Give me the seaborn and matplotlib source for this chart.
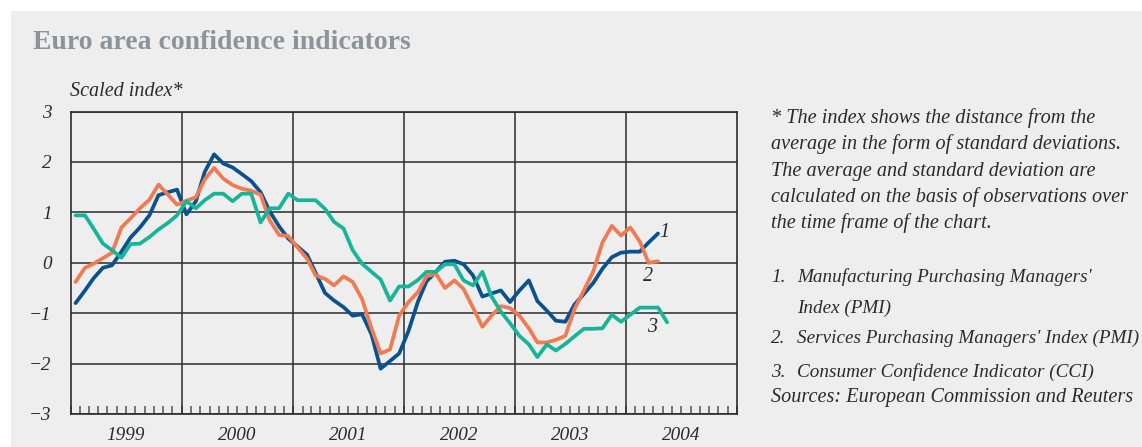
import pandas as pd
import matplotlib
matplotlib.use("Agg")
import matplotlib.pyplot as plt
import matplotlib.dates as mdates
from matplotlib.patches import Rectangle
import seaborn as sns

# Monthly values, Jan 1999 onwards (scaled index, standard deviations)
pmi_manufacturing = [
    -0.80, -0.55, -0.31, -0.10, -0.05, 0.22, 0.50, 0.70, 0.94, 1.34, 1.40, 1.45,
    0.96, 1.22, 1.80, 2.15, 1.97, 1.89, 1.76, 1.62, 1.40, 1.02, 0.72, 0.48,
    0.32, 0.16, -0.20, -0.60, -0.75, -0.88, -1.05, -1.02, -1.42, -2.10, -1.95, -1.80,
    -1.35, -0.77, -0.37, -0.18, 0.02, 0.04, -0.03, -0.25, -0.67, -0.61, -0.55, -0.78,
    -0.55, -0.35, -0.76, -0.95, -1.15, -1.17, -0.83, -0.62, -0.40, -0.12, 0.11, 0.20,
    0.22, 0.22, 0.40, 0.58,
]
pmi_services = [
    -0.38, -0.10, -0.02, 0.09, 0.20, 0.70, 0.88, 1.08, 1.25, 1.55, 1.35, 1.15,
    1.23, 1.30, 1.65, 1.88, 1.67, 1.54, 1.47, 1.43, 1.35, 0.84, 0.55, 0.53,
    0.30, 0.08, -0.25, -0.32, -0.45, -0.27, -0.38, -0.72, -1.30, -1.80, -1.72, -1.05,
    -0.78, -0.58, -0.27, -0.22, -0.50, -0.35, -0.52, -0.89, -1.27, -1.05, -0.86, -0.90,
    -1.05, -1.30, -1.58, -1.58, -1.53, -1.45, -0.92, -0.55, -0.17, 0.40, 0.73, 0.54,
    0.70, 0.42, 0.00, 0.03,
]
consumer_confidence = [
    0.94, 0.94, 0.68, 0.38, 0.25, 0.10, 0.37, 0.38, 0.51, 0.66, 0.79, 0.94,
    1.22, 1.08, 1.24, 1.37, 1.37, 1.22, 1.37, 1.37, 0.80, 1.08, 1.08, 1.37,
    1.24, 1.24, 1.24, 1.07, 0.81, 0.68, 0.25, -0.02, -0.18, -0.33, -0.75, -0.47,
    -0.47, -0.34, -0.18, -0.18, -0.03, -0.03, -0.35, -0.45, -0.18, -0.67, -0.97, -1.20,
    -1.45, -1.62, -1.87, -1.62, -1.74, -1.61, -1.46, -1.31, -1.31, -1.30, -1.03, -1.17,
    -1.03, -0.89, -0.89, -0.89, -1.18,
]
series_labels = ["1", "2", "3"]
series_colors = ["#0a5190", "#f27a52", "#17b598"]
year_labels = ["1999", "2000", "2001", "2002", "2003", "2004"]
y_ticks = [3, 2, 1, 0, -1, -2, -3]
y_tick_labels = ["3", "2", "1", "0", "\u22121", "\u22122", "\u22123"]

notes = [
    "* The index shows the distance from the",
    "average in the form of standard deviations.",
    "The average and standard deviation are",
    "calculated on the basis of observations over",
    "the time frame of the chart.",
]
legend_lines = [
    ("1.", "Manufacturing Purchasing Managers'"),
    ("", "Index (PMI)"),
    ("2.", "Services Purchasing Managers' Index (PMI)"),
    ("3.", "Consumer Confidence Indicator (CCI)"),
]
source_text = "Sources: European Commission and Reuters"

sns.set_theme(style="white")
plt.rcParams["font.family"] = ["Liberation Serif", "DejaVu Serif"]

bg = "#eeeeee"
ink = "#2b2b2b"

fig = plt.figure(figsize=(11.42, 4.47), dpi=100)
fig.patch.set_facecolor("white")
fig.add_artist(Rectangle((11 / 1142, 0), 1, 436 / 447, transform=fig.transFigure,
                         facecolor=bg, edgecolor="none", zorder=-10))

ax = fig.add_axes([71 / 1142, 33 / 447, 666 / 1142, 302.5 / 447])
ax.set_facecolor(bg)

months = pd.date_range("1999-01-01", periods=len(consumer_confidence), freq="MS") + pd.Timedelta(days=15)

for values, color in zip([pmi_manufacturing, pmi_services, consumer_confidence], series_colors):
    sns.lineplot(x=months[:len(values)], y=values, color=color, linewidth=2.7, ax=ax, zorder=3)

# horizontal grid
ax.set_ylim(-3, 3)
ax.set_yticks(y_ticks)
ax.set_yticklabels(y_tick_labels, fontstyle="italic", fontsize=13.8, color=ink)
ax.yaxis.grid(True, color=ink, linewidth=1.1)
ax.tick_params(axis="y", length=0, pad=14)

# x axis: year boundaries as lines, year labels mid-year, month ticks
ax.set_xlim(pd.Timestamp("1999-01-01"), pd.Timestamp("2005-01-01"))
for yr in range(2000, 2005):
    ax.axvline(pd.Timestamp(f"{yr}-01-01"), color=ink, linewidth=1.1, zorder=1)
ax.xaxis.remove_overlapping_locs = False
ax.set_xticks([pd.Timestamp(f"{y}-07-01") for y in year_labels])
ax.set_xticklabels(year_labels, fontstyle="italic", fontsize=13.8, color=ink)
ax.xaxis.set_minor_locator(mdates.MonthLocator())
ax.tick_params(axis="x", which="major", length=0, pad=9)
ax.tick_params(axis="x", which="minor", direction="in", length=6, width=1.1,
               color="#555555", bottom=True, top=False)
ax.set_xlabel("")
ax.set_ylabel("")

for side in ["left", "right", "top", "bottom"]:
    ax.spines[side].set_color(ink)
    ax.spines[side].set_linewidth(1.2)

# series numbers
label_pos = [("2004-05-08", 0.60), ("2004-03-14", -0.27), ("2004-03-29", -1.28)]
for (d, yv), lab in zip(label_pos, series_labels):
    ax.text(pd.Timestamp(d), yv, lab, fontsize=14.5, fontstyle="italic", color=ink,
            ha="center", va="center", zorder=4)

# title and axis caption
fig.text(33 / 1142, 1 - 49 / 447, "Euro area confidence indicators", fontsize=20,
         fontweight="bold", color="#8c949a", ha="left", va="baseline")
fig.text(70 / 1142, 1 - 96 / 447, "Scaled index*", fontsize=14.5, fontstyle="italic",
         color=ink, ha="left", va="baseline")

# notes on the right
x0 = 771 / 1142
x1 = 797 / 1142
for i, line in enumerate(notes):
    fig.text(x0, 1 - (123 + 26.3 * i) / 447, line, fontsize=14.6, fontstyle="italic",
             color=ink, ha="left", va="baseline")
legend_y = [282, 313, 343, 377]
for (num, text), yb in zip(legend_lines, legend_y):
    if num:
        fig.text(x0, 1 - yb / 447, num, fontsize=13.8, fontstyle="italic",
                 color=ink, ha="left", va="baseline")
    fig.text(x1, 1 - yb / 447, text, fontsize=13.8, fontstyle="italic",
             color=ink, ha="left", va="baseline")
fig.text(x0, 1 - 402 / 447, source_text, fontsize=14.6, fontstyle="italic",
         color=ink, ha="left", va="baseline")

fig.savefig("out.png", dpi=100, facecolor=fig.get_facecolor())
